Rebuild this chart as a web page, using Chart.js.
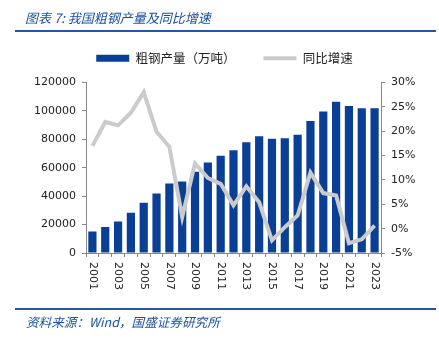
<!DOCTYPE html>
<html><head><meta charset="utf-8">
<script src="https://cdn.jsdelivr.net/npm/chart.js@4.4.1/dist/chart.umd.min.js"></script>
<style>
html,body{margin:0;padding:0;background:#fff;width:439px;height:339px;overflow:hidden;}
#wrap{position:absolute;left:0;top:0;width:439px;height:339px;}
#title{position:absolute;left:25px;top:8px;font:italic 13px "Noto Sans CJK SC";color:#1a4f9c;white-space:nowrap;}
#l1{position:absolute;left:15px;top:30px;width:421px;height:2px;background:#2456a4;}
#l2{position:absolute;left:15px;top:308px;width:421px;height:2px;background:#2456a4;}
#src{position:absolute;left:26px;top:312px;font:italic 12.6px "Noto Sans CJK SC";color:#1a4f9c;white-space:nowrap;}
</style></head><body>
<div id="wrap"><canvas id="c" width="439" height="339"></canvas></div>
<div id="title">图表 7:  我国粗钢产量及同比增速</div>
<div id="l1"></div>
<div id="l2"></div>
<div id="src">资料来源：Wind，国盛证券研究所</div>
<script>
const years = ['2001','2002','2003','2004','2005','2006','2007','2008','2009','2010','2011','2012','2013','2014','2015','2016','2017','2018','2019','2020','2021','2022','2023'];
const output = [15163,18237,22234,28291,35324,41915,48929,50306,57218,63723,68528,72388,77904,82231,80383,80761,83173,92826,99634,106477,103524,101796,101908];
const growth = [17.0,21.9,21.2,23.8,28.0,19.9,16.8,2.4,13.4,10.4,9.2,4.8,8.7,5.4,-2.4,0.3,2.7,11.5,7.3,6.8,-3.0,-2.2,0.6];
const leftTicks = [0,20000,40000,60000,80000,100000,120000];
const rightTicks = [-5,0,5,10,15,20,25,30];
const seriesNames = ['粗钢产量（万吨）','同比增速'];

const xLabelPlugin = {
  id:'xlab',
  afterInit(chart){
    const lg = chart.legend;
    if(lg){
      const of = lg.fit.bind(lg);
      lg.fit = function(){ of(); this.height += 8; };
    }
  },
  afterDraw(chart){
    const s = chart.scales.x, ctx = chart.ctx;
    ctx.save();
    ctx.font = '11px "DejaVu Sans"';
    ctx.fillStyle = '#222';
    ctx.textAlign = 'left';
    ctx.textBaseline = 'middle';
    years.forEach((y,i)=>{
      if(i%2!==0) return;
      const x = s.getPixelForValue(i);
      ctx.save();
      ctx.translate(x, s.top + 9);
      ctx.rotate(Math.PI/2);
      ctx.fillText(y,0,0);
      ctx.restore();
    });
    ctx.restore();
  }
};

new Chart(document.getElementById('c'),{
  data:{
    labels: years,
    datasets:[
      {type:'line',label:seriesNames[1],data:growth,yAxisID:'y1',borderColor:'#cbcbcb',backgroundColor:'#cbcbcb',borderWidth:4,pointRadius:0,tension:0,pointStyle:'line',order:0},
      {type:'bar',label:seriesNames[0],data:output,yAxisID:'y',backgroundColor:'#0a3f96',borderWidth:0,barPercentage:0.64,categoryPercentage:1,pointStyle:'rect',order:1}
    ]
  },
  options:{
    responsive:false,animation:false,
    layout:{padding:{top:24,left:10,right:0,bottom:0}},
    plugins:{
      legend:{position:'top',reverse:true,labels:{usePointStyle:true,pointStyleWidth:33,boxHeight:7,padding:28,font:{family:'"Noto Sans CJK SC"',size:12.5},color:'#222'}},
      tooltip:{enabled:false}
    },
    scales:{
      x:{grid:{display:true,drawOnChartArea:false,offset:true,tickLength:4,color:'#888'},border:{color:'#888'},ticks:{display:false},
        afterFit(s){s.height=86;}},
      y:{position:'left',min:0,max:120000,afterBuildTicks(s){s.ticks=leftTicks.map(v=>({value:v}));},
        grid:{display:true,drawOnChartArea:false,tickLength:4,color:'#888'},border:{color:'#888'},
        ticks:{font:{family:'"DejaVu Sans"',size:11},color:'#222',padding:6,callback:v=>String(v)},
        afterFit(s){s.width=76;}},
      y1:{position:'right',min:-5,max:30,afterBuildTicks(s){s.ticks=rightTicks.map(v=>({value:v}));},
        grid:{display:true,drawOnChartArea:false,tickLength:4,color:'#888'},border:{color:'#888'},
        ticks:{font:{family:'"DejaVu Sans"',size:11},color:'#222',padding:6,callback:v=>v+'%'},
        afterFit(s){s.width=58;}}
    }
  },
  plugins:[xLabelPlugin]
});
</script>
</body></html>
